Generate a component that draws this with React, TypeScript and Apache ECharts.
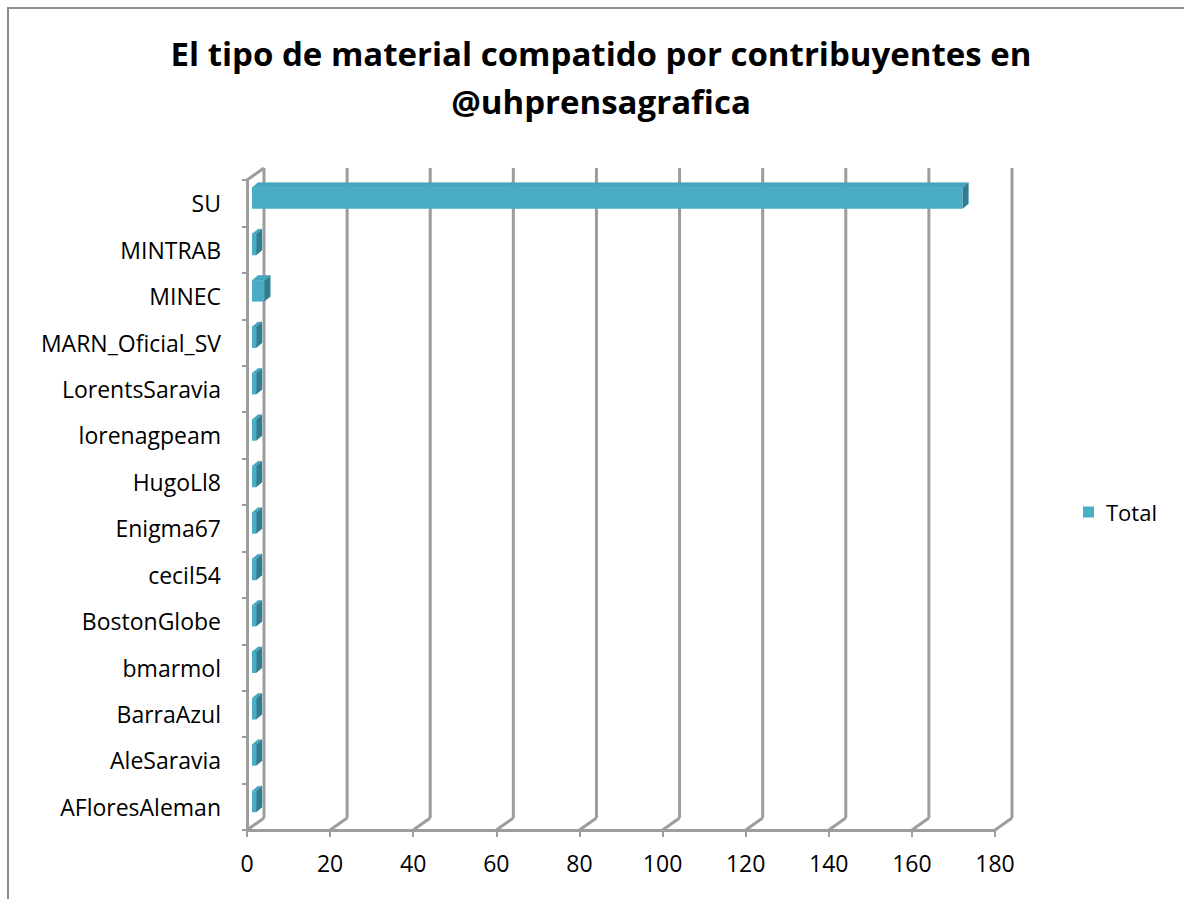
import React, { useEffect, useRef } from "react";
import * as echarts from "echarts";

const titleLines = ["El tipo de material compatido por contribuyentes en", "@uhprensagrafica"];
const categories = [
  "SU",
  "MINTRAB",
  "MINEC",
  "MARN_Oficial_SV",
  "LorentsSaravia",
  "lorenagpeam",
  "HugoLl8",
  "Enigma67",
  "cecil54",
  "BostonGlobe",
  "bmarmol",
  "BarraAzul",
  "AleSaravia",
  "AFloresAleman",
];
const totals = [171, 1, 3, 1, 1, 1, 1, 1, 1, 1, 1, 1, 1, 1];
const xTicks = [0, 20, 40, 60, 80, 100, 120, 140, 160, 180];
const seriesName = "Total";

const FONT = '"Open Sans", "Liberation Sans", sans-serif';
const GRID_COLOR = "#9d9d9d";
const DX = 17;
const DY = 12;

export default function App() {
  const ref = useRef<HTMLDivElement>(null);
  useEffect(() => {
    if (!ref.current) return;
    const chart = echarts.init(ref.current, null, { renderer: "svg" });
    const option: any = {
      animation: false,
      backgroundColor: "#ffffff",
      title: {
        text: titleLines.join("\n"),
        left: 596,
        top: 24,
        textAlign: "center",
        textStyle: {
          fontFamily: FONT,
          fontWeight: "bold",
          fontSize: 33,
          lineHeight: 48,
          color: "#000000",
        },
      },
      legend: {
        data: [seriesName],
        left: 1083,
        top: 501,
        padding: 0,
        icon: "rect",
        itemWidth: 11,
        itemHeight: 11,
        itemGap: 5,
        textStyle: { fontFamily: FONT, fontSize: 22, color: "#000000", padding: [0, 0, 0, 7] },
      },
      graphic: [
        {
          type: "rect",
          shape: { x: 8, y: 8, width: 1300, height: 1000 },
          style: { fill: "none", stroke: "#8c8c8c", lineWidth: 2 },
          silent: true,
        },
      ],
      grid: { left: 247, right: 189, top: 180, bottom: 69 },
      xAxis: {
        type: "value",
        min: xTicks[0],
        max: xTicks[xTicks.length - 1],
        interval: xTicks[1] - xTicks[0],
        axisLine: { show: true, lineStyle: { color: GRID_COLOR, width: 3 } },
        axisTick: { show: true, length: 7, lineStyle: { color: GRID_COLOR, width: 2 } },
        splitLine: { show: false },
        axisLabel: { fontFamily: FONT, fontSize: 23, color: "#000000", margin: 21 },
      },
      yAxis: {
        type: "category",
        data: categories,
        inverse: true,
        axisLine: { show: true, lineStyle: { color: GRID_COLOR, width: 3 } },
        axisTick: { show: true, length: 5, lineStyle: { color: GRID_COLOR, width: 2 } },
        splitLine: { show: false },
        axisLabel: { fontFamily: FONT, fontSize: 23, color: "#000000", margin: 26 },
      },
      series: [
        {
          type: "custom",
          name: "grid3d",
          silent: true,
          clip: false,
          z: 1,
          data: xTicks.map((v) => [v, 0]),
          encode: { x: 0, y: 1 },
          renderItem: (params: any, api: any) => {
            const v = api.value(0);
            const p = api.coord([v, 0]);
            const cs = params.coordSys;
            const top = cs.y;
            const bottom = cs.y + cs.height;
            const x = p[0];
            const style = { stroke: GRID_COLOR, lineWidth: 3, fill: "none" };
            const children: any[] = [
              { type: "line", shape: { x1: x, y1: bottom, x2: x + DX, y2: bottom - DY }, style },
              { type: "line", shape: { x1: x + DX, y1: bottom - DY, x2: x + DX, y2: top - DY }, style },
            ];
            if (v === xTicks[0]) {
              children.push({ type: "line", shape: { x1: x, y1: top, x2: x + DX, y2: top - DY }, style });
            }
            return { type: "group", children };
          },
        },
        {
          type: "custom",
          name: seriesName,
          clip: false,
          z: 3,
          itemStyle: { color: "#4bacc6" },
          data: totals.map((v, i) => [v, i]),
          encode: { x: 0, y: 1 },
          renderItem: (params: any, api: any) => {
            const v = api.value(0);
            const idx = api.value(1);
            const p0 = api.coord([0, idx]);
            const p1 = api.coord([v, idx]);
            const h = 21;
            const sx = 5;
            const sy = -5;
            const dx = 6;
            const dy = 5;
            const x0 = p0[0] + sx;
            const x1 = p1[0] + sx;
            const yc = p0[1] + sy;
            const yt = yc - h / 2;
            const yb = yc + h / 2;
            return {
              type: "group",
              children: [
                {
                  type: "polygon",
                  shape: { points: [[x0, yt], [x1, yt], [x1 + dx, yt - dy], [x0 + dx, yt - dy]] },
                  style: { fill: "#46a6bf", stroke: "#3e97ae", lineWidth: 0.5 },
                },
                {
                  type: "rect",
                  shape: { x: x0, y: yt, width: x1 - x0, height: h },
                  style: { fill: "#4bacc6" },
                },
                {
                  type: "polygon",
                  shape: { points: [[x1, yt], [x1 + dx, yt - dy], [x1 + dx, yb - dy], [x1, yb]] },
                  style: { fill: "#2f7d92" },
                },
              ],
            };
          },
        },
      ],
    };
    chart.setOption(option);
    return () => chart.dispose();
  }, []);
  return (
    <div
      ref={ref}
      style={{ position: "absolute", left: 0, top: 0, width: 1184, height: 899 }}
    />
  );
}
